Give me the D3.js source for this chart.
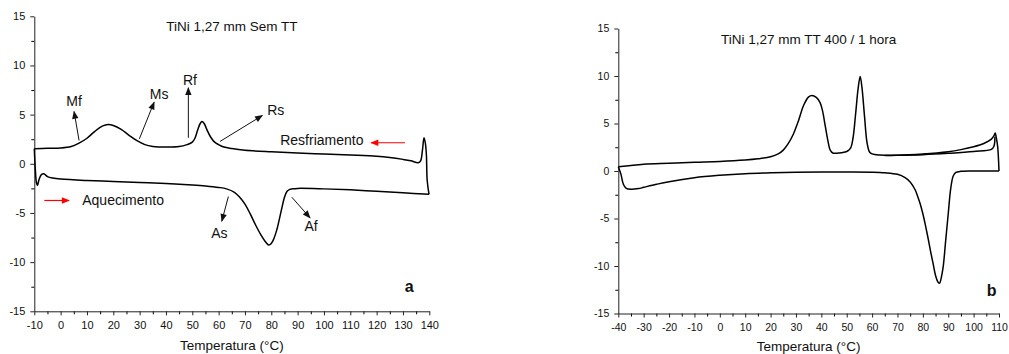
<!DOCTYPE html>
<html>
<head>
<meta charset="utf-8">
<script src="https://cdn.jsdelivr.net/npm/d3@7"></script>
<style>
	body { margin: 0; background: #fff; }
	text { font-family: 'Liberation Sans', Arial, sans-serif; fill: #111; }
</style>
</head>
<body>
<div id="chart"></div>
<script>
// panel a : TiNi 1,27 mm Sem TT  -> [temperatura, sinal]
const heatA = [
	[-10, 1.53], [-9.6, -0.6], [-9.2, -1.9], [-8.8, -2.2], [-8.2, -1.6], [-7.3, -1.1], [-6.4, -1.02],
	[-5, -1.3], [-3, -1.45], [0, -1.55], [10, -1.7], [20, -1.8], [30, -1.9], [40, -2.0], [50, -2.15],
	[55, -2.25], [60, -2.4], [63, -2.55], [66, -2.9], [68, -3.4], [70, -4.1], [72, -5.1], [74, -6.2],
	[76, -7.2], [78, -8.0], [79, -8.25], [80, -8.1], [81, -7.6], [82, -6.8], [83, -5.7], [84, -4.5],
	[85, -3.4], [86, -2.8], [87, -2.6], [88, -2.55], [90, -2.5], [100, -2.55], [110, -2.65],
	[120, -2.8], [130, -2.95], [139.9, -3.1]
];
const coolA = [
	[-10, 1.53], [-5, 1.57], [0, 1.6], [4, 1.75], [7, 2.1], [10, 2.6], [13, 3.3], [16, 3.85], [18, 4.0],
	[20, 3.9], [23, 3.5], [26, 2.9], [29, 2.35], [32, 1.95], [35, 1.77], [40, 1.7], [45, 1.75], [48, 1.95],
	[50, 2.2], [51, 2.6], [52, 3.4], [53, 4.1], [53.7, 4.3], [54.5, 4.1], [55.5, 3.5], [57, 2.7],
	[58.5, 2.2], [60, 1.95], [62, 1.7], [65, 1.55], [70, 1.38], [80, 1.22], [90, 1.1], [100, 1.0],
	[110, 0.9], [120, 0.78], [125, 0.65], [130, 0.45], [133, 0.3], [135.8, 0.1], [136.7, 0.3],
	[137.4, 1.4], [138, 2.65], [138.5, 2.1], [138.9, 0.9], [139.2, -1.7], [139.9, -3.1]
];

// panel b : TiNi 1,27 mm TT 400 / 1 hora
const heatB = [
	[-40, 0.45], [-39, -0.3], [-38, -1.4], [-37, -1.8], [-35, -1.93], [-32, -1.85], [-30, -1.72],
	[-25, -1.4], [-20, -1.12], [-10, -0.7], [0, -0.45], [10, -0.28], [20, -0.18], [30, -0.12],
	[40, -0.1], [50, -0.1], [60, -0.12], [65, -0.18], [70, -0.35], [73, -0.7], [75, -1.15], [77, -2.0],
	[78, -2.7], [79, -3.5], [80, -4.5], [81, -5.7], [82, -7.0], [83, -8.4], [84, -9.7], [85, -11.0],
	[86, -11.7], [86.6, -11.8], [87.2, -11.3], [88, -10.1], [89, -7.3], [90, -4.5], [91, -1.8],
	[92, -0.5], [93, -0.15], [95, -0.03], [100, 0], [110, 0]
];
const coolB = [
	[-40, 0.45], [-30, 0.72], [-20, 0.82], [-10, 0.92], [0, 1.0], [10, 1.15], [15, 1.28], [20, 1.5],
	[23, 1.8], [25, 2.2], [27, 2.9], [29, 3.9], [31, 5.3], [33, 6.9], [35, 7.8], [36.3, 7.95], [38, 7.75],
	[39.5, 7.2], [40.5, 6.3], [41.5, 4.8], [42.5, 3.3], [43.5, 2.2], [44.5, 1.9], [46, 1.88], [48, 1.93],
	[50, 2.05], [51.5, 2.4], [52.5, 3.5], [53.5, 6.0], [54.5, 8.7], [55.3, 9.95], [56, 8.8], [57, 5.8],
	[58, 3.0], [59, 2.0], [60, 1.8], [63, 1.68], [70, 1.65], [80, 1.78], [90, 2.03], [95, 2.25],
	[100, 2.55], [104, 2.9], [107, 3.35], [108, 3.7], [108.5, 4.0], [109, 3.4], [109.5, 2.5], [110, 0]
];
const coolB2 = [
	[65, 1.64], [70, 1.66], [80, 1.72], [90, 1.86], [100, 2.05], [107, 2.28], [108, 2.6], [108.4, 3.6]
];

// arrows: [t1, v1, t2, v2]  and labels: [text, t, v]
const arrowsA = [
	[7.0, 2.37, 5.1, 5.32], [29.9, 2.54, 35.5, 6.27], [48.5, 2.64, 48.5, 7.73],
	[60.5, 2.27, 76.6, 4.91], [63.7, -3.33, 61.2, -5.84], [87.8, -3.4, 94.7, -5.49]
];
const labelsA = [['Mf', 5.1, 6.4], ['Ms', 37.4, 7.1], ['Rf', 49.1, 8.5], ['Rs', 81.7, 5.5],
	['As', 60.3, -7.0], ['Af', 95.1, -6.3]];
const redArrowsA = [[130.8, 2.14, 117.9, 2.14], [-6.2, -3.73, 3.2, -3.73]];

const xTicksA = d3.range(-10, 141, 10);
const xTicksB = d3.range(-40, 111, 10);
const yTicks = [-15, -10, -5, 0, 5, 10, 15];

const W = 1009, H = 354;
const svg = d3.select('#chart').append('svg').attr('width', W).attr('height', H);

const defs = svg.append('defs');
function marker(id, color) {
	defs.append('marker')
		.attr('id', id)
		.attr('viewBox', '0 0 10 10')
		.attr('refX', 9).attr('refY', 5)
		.attr('markerWidth', 10).attr('markerHeight', 8)
		.attr('markerUnits', 'userSpaceOnUse')
		.attr('orient', 'auto')
		.append('path').attr('d', 'M0,1 L10,5 L0,9 Z').attr('fill', color);
}
marker('ah', '#111');
marker('ahr', '#ff0000');

function panel(cfg) {
	const x = d3.scaleLinear().domain(cfg.xDomain).range(cfg.xRange);
	const y = d3.scaleLinear().domain([-15, 15]).range(cfg.yRange);
	const g = svg.append('g');

	// minor ticks
	g.append('g').attr('transform', `translate(0,${cfg.yRange[0]})`)
		.call(d3.axisBottom(x).tickValues(d3.range(cfg.xDomain[0] + 5, cfg.xDomain[1], 10)).tickSize(3).tickFormat(''))
		.call((a) => a.select('.domain').remove());
	g.append('g').attr('transform', `translate(${cfg.xRange[0]},0)`)
		.call(d3.axisLeft(y).tickValues(d3.range(-12.5, 15, 5)).tickSize(3).tickFormat(''))
		.call((a) => a.select('.domain').remove());

	const fmt = (d) => String(d);
	const xa = g.append('g').attr('transform', `translate(0,${cfg.yRange[0]})`)
		.call(d3.axisBottom(x).tickValues(cfg.xTicks).tickFormat(fmt).tickSize(4).tickPadding(6).tickSizeOuter(0));
	const ya = g.append('g').attr('transform', `translate(${cfg.xRange[0]},0)`)
		.call(d3.axisLeft(y).tickValues(yTicks).tickFormat(fmt).tickSize(4).tickPadding(5).tickSizeOuter(0));
	[xa, ya].forEach((a) => {
		a.selectAll('text').attr('font-size', cfg.tickFont).attr('font-family', 'Liberation Sans, Arial, sans-serif').attr('fill', '#222');
		a.selectAll('line, path').attr('stroke', '#222');
	});

	const line = d3.line().x((d) => x(d[0])).y((d) => y(d[1])).curve(d3.curveCatmullRom.alpha(0.5));
	cfg.series.forEach((s) => {
		g.append('path').datum(s).attr('d', line)
			.attr('fill', 'none').attr('stroke', '#000').attr('stroke-width', 1.5).attr('stroke-linejoin', 'round');
	});

	g.append('text').attr('x', (cfg.xRange[0] + cfg.xRange[1]) / 2).attr('y', cfg.titleY)
		.attr('text-anchor', 'middle').attr('font-size', 13.5).text(cfg.title);
	g.append('text').attr('x', (cfg.xRange[0] + cfg.xRange[1]) / 2).attr('y', cfg.axisTitleY)
		.attr('text-anchor', 'middle').attr('font-size', 13.5).text('Temperatura (°C)');
	g.append('text').attr('x', x(cfg.tag[1])).attr('y', y(cfg.tag[2]) + 6)
		.attr('text-anchor', 'middle').attr('font-size', 16).attr('font-weight', 'bold').text(cfg.tag[0]);
	return { g, x, y };
}

const pa = panel({
	xDomain: [-10, 140], xRange: [34.3, 429.3], yRange: [311.3, 16.3], xTicks: xTicksA,
	series: [heatA, coolA], title: 'TiNi 1,27 mm Sem TT', titleY: 31, axisTitleY: 350,
	tag: ['a', 132.4, -12.45], tickFont: 11
});
const pb = panel({
	xDomain: [-40, 110], xRange: [618.3, 999], yRange: [313.5, 28.5], xTicks: xTicksB,
	series: [heatB, coolB, coolB2], title: 'TiNi 1,27 mm TT 400 / 1 hora', titleY: 44, axisTitleY: 350.5,
	tag: ['b', 107.1, -12.5], tickFont: 10.5
});

// annotations panel a
arrowsA.forEach((a) => {
	pa.g.append('line')
		.attr('x1', pa.x(a[0])).attr('y1', pa.y(a[1])).attr('x2', pa.x(a[2])).attr('y2', pa.y(a[3]))
		.attr('stroke', '#111').attr('stroke-width', 1).attr('marker-end', 'url(#ah)');
});
labelsA.forEach((l) => {
	pa.g.append('text').attr('x', pa.x(l[1])).attr('y', pa.y(l[2]) + 5)
		.attr('text-anchor', 'middle').attr('font-size', 14).text(l[0]);
});
redArrowsA.forEach((a) => {
	pa.g.append('line')
		.attr('x1', pa.x(a[0])).attr('y1', pa.y(a[1])).attr('x2', pa.x(a[2])).attr('y2', pa.y(a[3]))
		.attr('stroke', '#ff0000').attr('stroke-width', 1.2).attr('marker-end', 'url(#ahr)');
});
pa.g.append('text').attr('x', pa.x(99.2)).attr('y', pa.y(2.37) + 5)
	.attr('text-anchor', 'middle').attr('font-size', 14).text('Resfriamento');
pa.g.append('text').attr('x', pa.x(8.2)).attr('y', pa.y(-3.66) + 5)
	.attr('font-size', 14).text('Aquecimento');
</script>
</body>
</html>
